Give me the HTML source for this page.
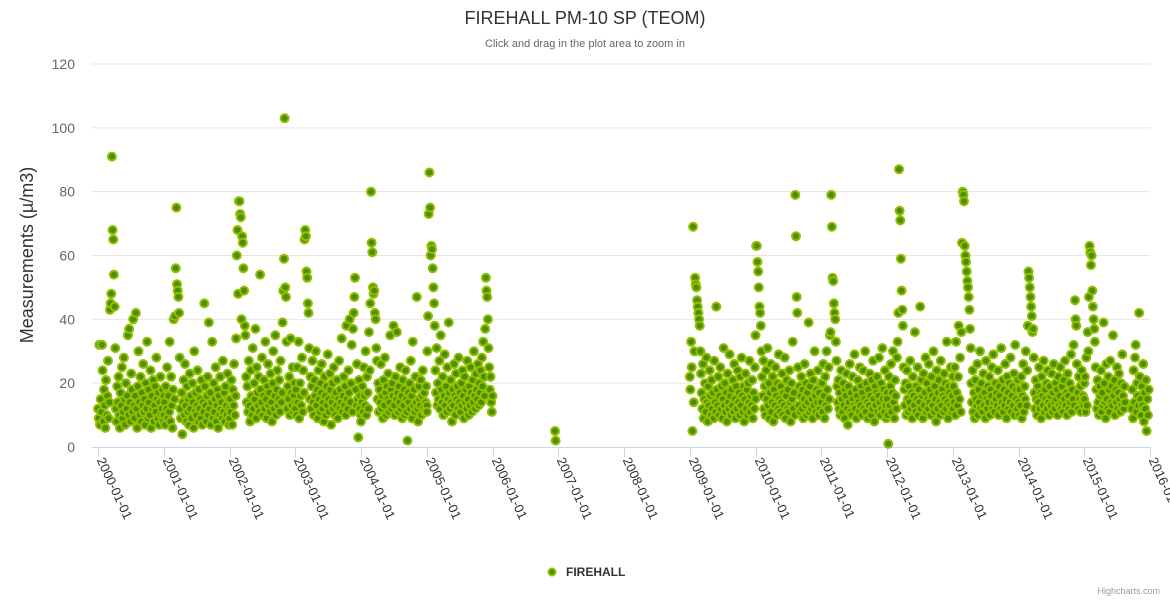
<!DOCTYPE html>
<html><head><meta charset="utf-8"><style>
body{margin:0;background:#fff;}
svg{display:block;font-family:"Liberation Sans",sans-serif;}
</style></head><body>
<svg id="chart" width="1170" height="600" viewBox="0 0 1170 600">
<text x="585" y="24" text-anchor="middle" font-size="18" fill="#333">FIREHALL PM-10 SP (TEOM)</text>
<text x="585" y="47" text-anchor="middle" font-size="11" fill="#666">Click and drag in the plot area to zoom in</text>
<text transform="translate(33,255) rotate(-90)" text-anchor="middle" font-size="18" fill="#333">Measurements (µ/m3)</text>
<g id="grid"></g><g id="xaxis"></g><g id="points"></g>
<g><circle cx="552" cy="572" r="3.5" fill="#4d8c00" stroke="#90bf00" stroke-width="2"/><text x="566" y="576" font-size="12" font-weight="bold" fill="#333">FIREHALL</text></g>
<text x="1160" y="594" text-anchor="end" font-size="9" fill="#999">Highcharts.com</text>
</svg>
<script>
const yTicks=[0,20,40,60,80,100,120];
const xTickYears=[2000,2001,2002,2003,2004,2005,2006,2007,2008,2009,2010,2011,2012,2013,2014,2015,2016];
const segStart=[2000,2001,2002,2003,2004,2005,2006.95,2009,2010,2011,2012,2013,2014,2015,2015.72];
const segEnd=[2001,2002,2003,2004,2005,2006,2006.96,2010,2011,2012,2013,2014,2015,2015.62,2015.98];
const segValues=[
"12 9 32 7 15 11 32 24 8 18 13 6 21 10 16 27 9 14 43 45 48 91 68 65 54 44 31 12 8 19 14 22 10 6 17 13 25 9 11 28 15 7 20 12 16 35 10 37 14 8 23 18 11 40 13 9 16 42 12 6 19 30 14 10 22 8 17 13 26 11 15 7 20 12 33 9 18 14 10 24 6 16 12 21 8 13 19 11 28 15 9 17 7 14 22 10 12 18 8 16",
"10 14 7 19 12 25 9 16 11 33 8 22 13 6 18 40 15 41 56 75 51 49 47 42 28 12 9 17 4 14 21 10 26 13 8 19 11 15 7 23 12 16 9 20 14 6 30 11 17 10 13 24 8 18 12 15 9 21 7 14 11 45 19 13 8 16 22 10 39 12 17 7 14 33 9 20 11 15 25 8 13 18 6 16 10 22 12 14 9 27 11 17 8 19 13 10 23 15 7 12",
"9 15 11 21 7 18 13 26 10 16 34 60 68 48 77 77 73 72 40 66 64 56 49 38 35 22 14 19 11 27 13 8 24 16 10 31 12 20 15 37 9 25 17 13 22 11 54 18 14 28 10 16 21 12 33 15 9 19 26 13 17 11 23 14 8 20 30 12 16 35 10 18 24 13 15 21 11 27 14 17 39 49 59 103 50 47 33 12 19 15 22 10 34 17 13 25 11 16 20 14",
"12 18 10 25 14 33 9 20 16 13 28 11 24 17 65 68 66 55 53 45 42 31 15 22 12 19 27 14 10 21 16 30 13 18 9 24 15 11 20 17 26 12 14 8 22 16 10 19 13 29 15 11 23 18 7 14 20 12 25 16 10 17 13 21 9 15 27 12 18 14 34 11 16 22 13 19 10 38 15 12 24 17 40 14 20 32 11 37 42 47 53 18 13 26 15 3 21 12 16 10",
"8 14 19 11 25 16 13 30 10 22 17 12 36 24 45 80 64 61 50 48 49 42 40 31 27 15 20 11 18 14 26 12 16 9 21 13 28 17 10 19 15 23 11 14 35 18 12 20 16 38 13 10 22 15 36 17 11 19 14 25 12 16 9 21 13 18 10 24 15 11 2 17 14 20 12 27 16 9 33 13 18 11 22 14 47 12 8 19 15 13 21 10 16 24 12 17 11 14 19 13",
"11 30 41 73 86 75 60 63 62 56 50 45 38 24 17 31 13 20 15 27 12 35 18 14 22 10 16 29 13 19 11 25 15 39 17 12 21 14 8 18 13 26 16 10 23 15 19 12 28 14 17 11 20 13 24 16 9 22 14 18 12 27 15 10 19 13 25 17 11 21 14 30 16 12 23 18 15 26 13 20 17 24 14 28 19 33 22 16 37 53 49 47 40 31 25 18 22 14 11 16",
"5 2",
"22 18 33 25 5 69 14 30 53 51 50 46 44 42 40 38 30 23 17 12 26 9 15 20 11 28 14 8 19 13 24 16 10 21 12 17 9 27 14 11 44 18 13 22 10 16 25 12 19 9 15 31 13 20 11 17 8 23 14 12 29 16 10 18 13 21 11 26 15 9 19 12 24 14 17 10 22 13 28 16 11 19 8 15 23 12 18 10 20 14 27 11 16 13 21 9 17 12 25 15",
"35 63 63 58 55 50 44 42 38 30 22 16 27 12 19 10 24 15 31 13 20 9 17 26 11 14 22 8 18 13 25 16 10 20 12 29 15 11 19 14 23 10 17 13 28 9 16 21 12 18 11 24 14 8 20 15 33 12 17 10 79 66 47 42 25 13 19 11 16 22 12 18 9 15 26 13 20 10 17 14 39 11 19 23 12 15 9 21 13 30 16 11 18 14 24 10 17 12 20 15",
"14 20 11 26 16 9 22 13 30 18 12 25 15 35 36 79 69 53 52 45 42 40 33 27 19 14 21 12 17 10 24 15 11 20 13 9 18 16 23 12 7 19 14 26 11 17 10 22 15 13 29 12 18 9 16 21 14 11 25 13 19 10 17 24 12 15 30 11 20 14 9 18 13 23 16 10 21 12 27 15 8 19 13 17 22 11 16 28 14 10 20 12 31 15 18 11 24 13 9 17",
"15 10 1 22 13 19 26 11 17 30 14 9 21 16 12 28 33 42 87 74 71 59 49 43 38 25 18 13 20 10 24 15 11 19 14 27 12 17 9 22 16 13 36 11 19 15 25 10 18 14 44 12 21 16 9 23 13 17 28 11 20 15 12 26 14 18 10 22 16 13 30 11 19 15 8 24 12 17 21 14 10 27 13 18 16 11 23 15 20 12 33 14 9 19 17 13 25 11 16 22",
"12 19 14 25 10 33 17 13 22 38 15 28 11 36 64 80 79 77 63 60 58 55 52 50 47 43 37 31 20 14 24 11 17 9 21 15 13 26 10 18 14 30 12 20 16 11 23 13 17 9 27 15 12 19 14 22 10 18 16 25 12 29 14 11 20 15 17 13 24 10 19 16 12 31 14 21 11 18 13 26 15 9 22 17 12 20 14 28 11 16 19 13 23 10 32 15 18 12 21 14",
"14 10 18 13 22 9 16 26 11 19 15 30 13 24 38 55 53 50 47 44 41 36 37 28 17 12 21 15 10 19 14 25 12 17 9 22 16 13 27 11 18 15 20 12 24 14 10 19 16 13 23 11 17 26 14 12 20 15 18 10 22 13 16 25 12 19 14 11 21 15 27 13 17 10 23 16 12 20 14 29 11 18 15 32 13 46 40 38 26 17 12 22 15 19 11 24 14 16 13 20",
"15 22 11 28 13 36 30 47 63 61 57 60 49 44 40 37 33 25 18 12 21 14 10 19 16 24 11 17 13 39 20 14 9 26 15 12 22 18 11 27 14 19 13 35 16 21 10 18 14 25 12 17 23 15 11 20 13 29 16 12 19 14",
"12 18 9 24 14 28 32 11 20 16 13 42 22 15 10 19 13 26 8 17 12 21 5 15 10 18"
];
const NS="http://www.w3.org/2000/svg";
function yScale(v){return 447-v*(383/120);}
function xScale(t){return 98+(t-2000)*65.75;}
const grid=document.getElementById('grid');
yTicks.forEach(v=>{
 if(v>0){const l=document.createElementNS(NS,'line');
 l.setAttribute('x1',92);l.setAttribute('x2',1150);l.setAttribute('y1',yScale(v));l.setAttribute('y2',yScale(v));
 l.setAttribute('stroke','#e6e6e6');
 
 
 grid.appendChild(l);}
 const t=document.createElementNS(NS,'text');
 t.setAttribute('x',75);t.setAttribute('y',yScale(v)+5);t.setAttribute('text-anchor','end');
 t.setAttribute('font-size','14');t.setAttribute('fill','#666');t.textContent=v;
 
 
 grid.appendChild(t);
});
const xa=document.getElementById('xaxis');
const al=document.createElementNS(NS,'line');
al.setAttribute('x1',92);al.setAttribute('x2',1150);al.setAttribute('y1',447.5);al.setAttribute('y2',447.5);al.setAttribute('stroke','#ccd6eb');


xa.appendChild(al);
xTickYears.forEach(yr=>{
 const x=Math.round(xScale(yr))+0.5;
 const tk=document.createElementNS(NS,'line');
 tk.setAttribute('x1',x);tk.setAttribute('x2',x);tk.setAttribute('y1',447);tk.setAttribute('y2',457);tk.setAttribute('stroke','#ccd6eb');
 
 
 xa.appendChild(tk);
 const t=document.createElementNS(NS,'text');
 t.setAttribute('transform','translate('+(x-2)+',460) rotate(65)');
 t.setAttribute('font-size','13');t.setAttribute('fill','#333');t.textContent=yr+'-01-01';
 
 
 xa.appendChild(t);
});
const pg=document.getElementById('points');
segValues.forEach((s,i)=>{
 const vals=s.trim().split(/\s+/).map(Number);
 const n=vals.length;
 vals.forEach((v,j)=>{
  const t=segStart[i]+(segEnd[i]-segStart[i])*(n>1?j/(n-1):0);
  const c=document.createElementNS(NS,'circle');
  c.setAttribute('cx',xScale(t).toFixed(1));c.setAttribute('cy',yScale(v).toFixed(1));c.setAttribute('r','4');
  c.setAttribute('fill','#4d8c00');c.setAttribute('stroke','#90bf00');c.setAttribute('stroke-width','2');
  
  
  pg.appendChild(c);
 });
});
</script>
</body></html>
